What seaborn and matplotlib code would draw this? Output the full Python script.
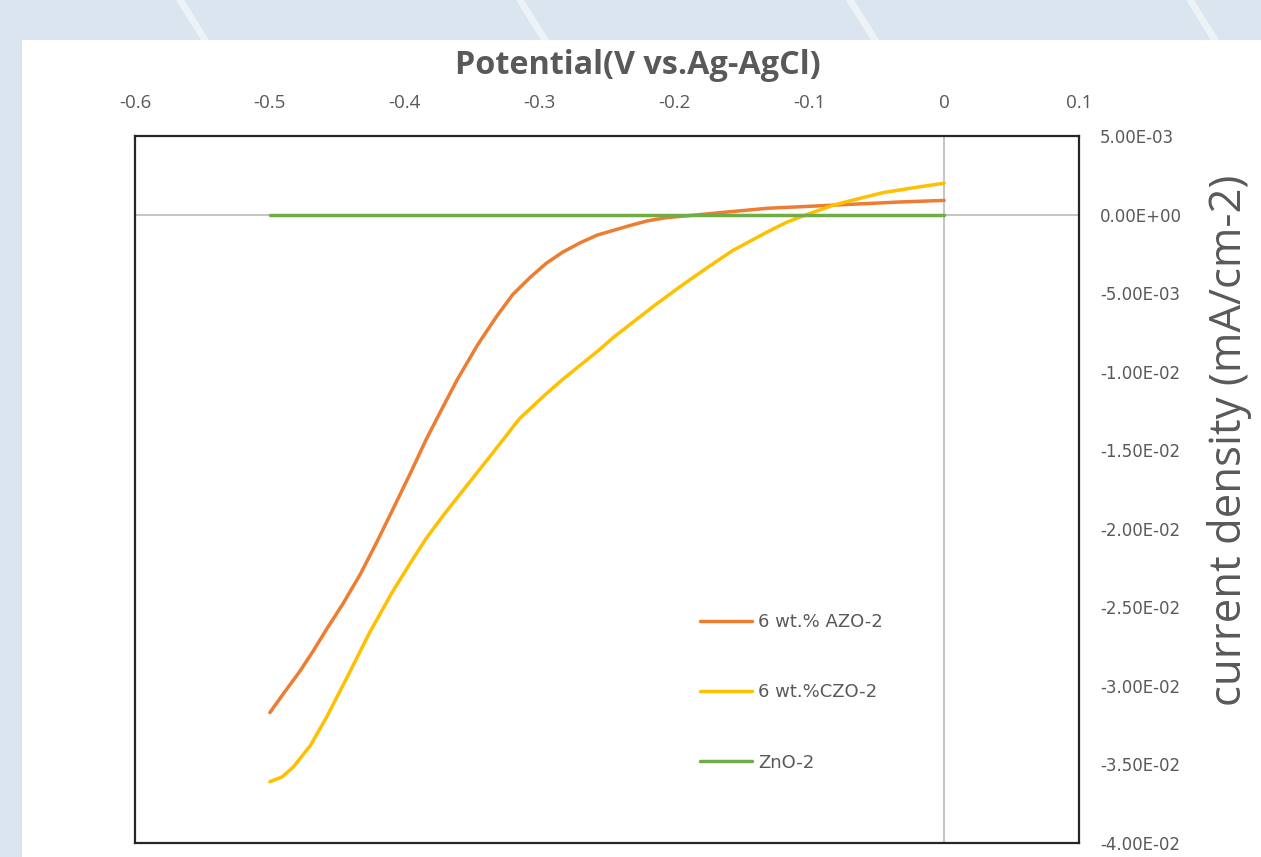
import numpy as np
import pandas as pd
import matplotlib
matplotlib.use("Agg")
import matplotlib.pyplot as plt
from matplotlib.patches import Rectangle
from matplotlib.ticker import FixedLocator, FuncFormatter
import seaborn as sns

# Potential (V vs. Ag/AgCl) and current density (mA/cm-2) for each sample
azo_potential = [-0.500, -0.490, -0.478, -0.468, -0.458, -0.446, -0.433, -0.421, -0.409,
                 -0.396, -0.384, -0.372, -0.361, -0.346, -0.332, -0.320, -0.307, -0.295,
                 -0.283, -0.270, -0.257, -0.245, -0.233, -0.220, -0.206, -0.181, -0.156,
                 -0.131, -0.106, -0.082, -0.057, -0.033, 0.000]
azo_current = [-0.0317, -0.0305, -0.0291, -0.0278, -0.0264, -0.0248, -0.0229, -0.0209, -0.0188,
               -0.0165, -0.0143, -0.0123, -0.0105, -0.0083, -0.0065, -0.0051, -0.0040, -0.0031,
               -0.0024, -0.0018, -0.0013, -0.0010, -0.0007, -0.0004, -0.0002, 0.0000, 0.0002,
               0.0004, 0.0005, 0.0006, 0.0007, 0.0008, 0.0009]

czo_potential = [-0.500, -0.491, -0.483, -0.470, -0.458, -0.443, -0.426, -0.409, -0.396,
                 -0.384, -0.371, -0.359, -0.347, -0.335, -0.315, -0.295, -0.283,
                 -0.270, -0.257, -0.245, -0.233, -0.215, -0.196, -0.176, -0.157, -0.131,
                 -0.117, -0.102, -0.082, -0.064, -0.045, -0.023, 0.000]
czo_current = [-0.0361, -0.0358, -0.0352, -0.0338, -0.0320, -0.0295, -0.0266, -0.0240, -0.0222,
               -0.0206, -0.0191, -0.0178, -0.0165, -0.0152, -0.0130, -0.0114, -0.0105,
               -0.0096, -0.0087, -0.0078, -0.0070, -0.0058, -0.0046, -0.0034, -0.0023, -0.0011,
               -0.0005, 0.0000, 0.0006, 0.0010, 0.0014, 0.0017, 0.0020]

zno_potential = [-0.500, -0.250, 0.000]
zno_current = [0.0, 0.0, 0.0]

series_names = ["6 wt.% AZO-2", "6 wt.%CZO-2", "ZnO-2"]
series_colors = ["#ED7D31", "#FFC000", "#70AD47"]

x_ticks = [-0.6, -0.5, -0.4, -0.3, -0.2, -0.1, 0, 0.1]
y_ticks = [0.005, 0.0, -0.005, -0.01, -0.015, -0.02, -0.025, -0.03, -0.035, -0.04]

frames = []
for name, xs, ys in zip(series_names,
                        [azo_potential, czo_potential, zno_potential],
                        [azo_current, czo_current, zno_current]):
    frames.append(pd.DataFrame({"potential": xs, "current": ys, "sample": name}))
data = pd.concat(frames, ignore_index=True)

sns.set_theme(style="white")
plt.rcParams["font.family"] = ["Open Sans", "DejaVu Sans"]

W, H = 1261, 857
fig = plt.figure(figsize=(W / 100, H / 100), dpi=100)
fig.patch.set_facecolor("#dbe5f0")

# white chart panel over the tinted backdrop
fig.patches.append(Rectangle((22 / W, 0), 1 - 22 / W, (H - 40) / H,
                             transform=fig.transFigure, facecolor="white",
                             edgecolor="none", zorder=-5))
# faint diagonal streaks in the backdrop
for x0 in [180, 520, 850, 1190]:
    fig.lines.append(plt.Line2D([x0 / W, (x0 + 25) / W], [1.0, (H - 40) / H],
                                transform=fig.transFigure, color="white",
                                alpha=0.5, lw=5, zorder=-6))

left, right, top, bottom = 135, 1079, 136, 843
ax = fig.add_axes([left / W, (H - bottom) / H, (right - left) / W, (bottom - top) / H])
ax.set_zorder(2)
ax.set_facecolor("white")

# zero lines
ax.axhline(0, color="#bfbfbf", lw=1.3, zorder=1)
ax.axvline(0, color="#bfbfbf", lw=1.3, zorder=1)

sns.lineplot(data=data, x="potential", y="current", hue="sample",
             hue_order=series_names, palette=series_colors, sort=False,
             lw=2.5, ax=ax, zorder=3, legend=True)
for ln in ax.get_lines():
    ln.set_solid_joinstyle("round")
    ln.set_solid_capstyle("round")

ax.set_xlim(-0.6, 0.1)
ax.set_ylim(-0.04, 0.005)

ax.xaxis.set_major_locator(FixedLocator(x_ticks))
ax.yaxis.set_major_locator(FixedLocator(y_ticks))
ax.xaxis.set_major_formatter(FuncFormatter(lambda v, p: f"{v:g}"))

def sci_fmt(v, p):
    if abs(v) < 1e-12:
        return "0.00E+00"
    return f"{v:.2E}"

ax.yaxis.set_major_formatter(FuncFormatter(sci_fmt))
ax.xaxis.tick_top()
ax.yaxis.tick_right()
ax.tick_params(axis="x", length=0, pad=17, labelsize=13.5, colors="#595959")
ax.tick_params(axis="y", length=0, pad=15, labelsize=12, colors="#595959")
for lbl in ax.get_yticklabels():
    lbl.set_family(["DejaVu Sans"])

ax.set_xlabel("")
ax.set_ylabel("")

for sp in ax.spines.values():
    sp.set_visible(True)
    sp.set_color("#262626")
    sp.set_linewidth(1.6)

fig.text(638 / W, 1 - 66 / H, "Potential(V vs.Ag-AgCl)", ha="center", va="center",
         fontsize=23.3, fontweight="bold", color="#595959")
fig.text(1230 / W, 1 - 440 / H, "current density (mA/cm-2)", ha="center", va="center",
         rotation=90, fontsize=31.5, color="#595959")

leg = ax.legend(loc="upper left", bbox_to_anchor=((700 - left) / (right - left),
                                                  (bottom - 613) / (bottom - top)),
                frameon=False, borderpad=0, borderaxespad=0, handlelength=2.9,
                handletextpad=0.33, labelspacing=2.9,
                prop={"family": "DejaVu Sans", "size": 13})
for t in leg.get_texts():
    t.set_color("#595959")
for h in leg.get_lines():
    h.set_linewidth(2.5)

fig.savefig("out.png", dpi=100, facecolor=fig.get_facecolor())
